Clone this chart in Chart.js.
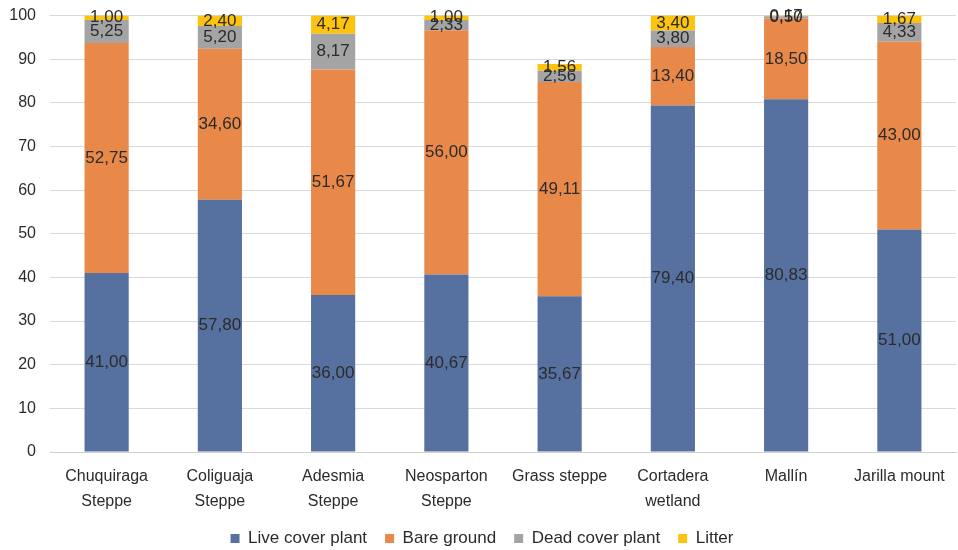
<!DOCTYPE html>
<html>
<head>
<meta charset="utf-8">
<script src="https://cdn.jsdelivr.net/npm/chart.js@4"></script>
<style>
  html, body { margin: 0; padding: 0; background: #ffffff; }
  #wrap { width: 958px; height: 550px; }
</style>
</head>
<body>
<div id="wrap"><canvas id="c" width="958" height="550"></canvas></div>
<script>
// Ground cover composition (%) per vegetation unit
const categories = [
  ["Chuquiraga", "Steppe"],
  ["Coliguaja", "Steppe"],
  ["Adesmia", "Steppe"],
  ["Neosparton", "Steppe"],
  "Grass steppe",
  ["Cortadera", "wetland"],
  "Mallín",
  "Jarilla mount"
];
const liveCoverPlant = [41.00, 57.80, 36.00, 40.67, 35.67, 79.40, 80.83, 51.00];
const bareGround     = [52.75, 34.60, 51.67, 56.00, 49.11, 13.40, 18.50, 43.00];
const deadCoverPlant = [5.25, 5.20, 8.17, 2.33, 2.56, 3.80, 0.50, 4.33];
const litter         = [1.00, 2.40, 4.17, 1.00, 1.56, 3.40, 0.17, 1.67];
const yTicks = [0, 10, 20, 30, 40, 50, 60, 70, 80, 90, 100];

const FONT = "'Liberation Sans', Arial, sans-serif";

// Writes each segment's value in its middle, with a decimal comma
const segmentLabels = {
  id: 'segmentLabels',
  afterDatasetsDraw(chart) {
    const ctx = chart.ctx;
    ctx.save();
    ctx.font = "17px " + FONT;
    ctx.fillStyle = '#2b2b2b';
    ctx.textAlign = 'center';
    ctx.textBaseline = 'middle';
    chart.data.datasets.forEach((ds, di) => {
      const meta = chart.getDatasetMeta(di);
      meta.data.forEach((bar, i) => {
        const v = ds.data[i];
        const yMid = (bar.y + bar.base) / 2;
        ctx.fillText(v.toFixed(2).replace('.', ','), bar.x, yMid);
      });
    });
    ctx.restore();
  }
};

new Chart(document.getElementById('c'), {
  type: 'bar',
  data: {
    labels: categories,
    datasets: [
      { label: 'Live cover plant', data: liveCoverPlant, backgroundColor: '#56719f' },
      { label: 'Bare ground', data: bareGround, backgroundColor: '#e8894a' },
      { label: 'Dead cover plant', data: deadCoverPlant, backgroundColor: '#a4a4a4' },
      { label: 'Litter', data: litter, backgroundColor: '#fdc40f' }
    ]
  },
  options: {
    responsive: false,
    animation: false,
    layout: { padding: { top: 0, right: 2, left: 8, bottom: -7 } },
    datasets: { bar: { categoryPercentage: 1, barPercentage: 0.39 } },
    scales: {
      x: {
        stacked: true,
        afterFit(scale) { scale.height = 60; },
        grid: { display: false, drawTicks: false },
        border: { color: '#d0d0d0' },
        ticks: { color: '#2b2b2b', font: { family: FONT, size: 16, lineHeight: 1.56 }, padding: 12, maxRotation: 0 }
      },
      y: {
        stacked: true,
        min: 0, max: 100,
        afterBuildTicks(scale) { scale.ticks = yTicks.map(v => ({ value: v })); },
        afterFit(scale) { scale.width = 42; },
        grid: { color: '#d9d9d9', drawTicks: false },
        border: { display: false },
        ticks: { color: '#2b2b2b', font: { family: FONT, size: 16, lineHeight: 0.2 }, padding: 14 }
      }
    },
    plugins: {
      legend: {
        position: 'bottom',
        labels: {
          color: '#2b2b2b',
          font: { family: FONT, size: 17 },
          boxWidth: 9, boxHeight: 9, padding: 18
        }
      },
      tooltip: { enabled: false }
    }
  },
  plugins: [segmentLabels]
});
</script>
</body>
</html>
